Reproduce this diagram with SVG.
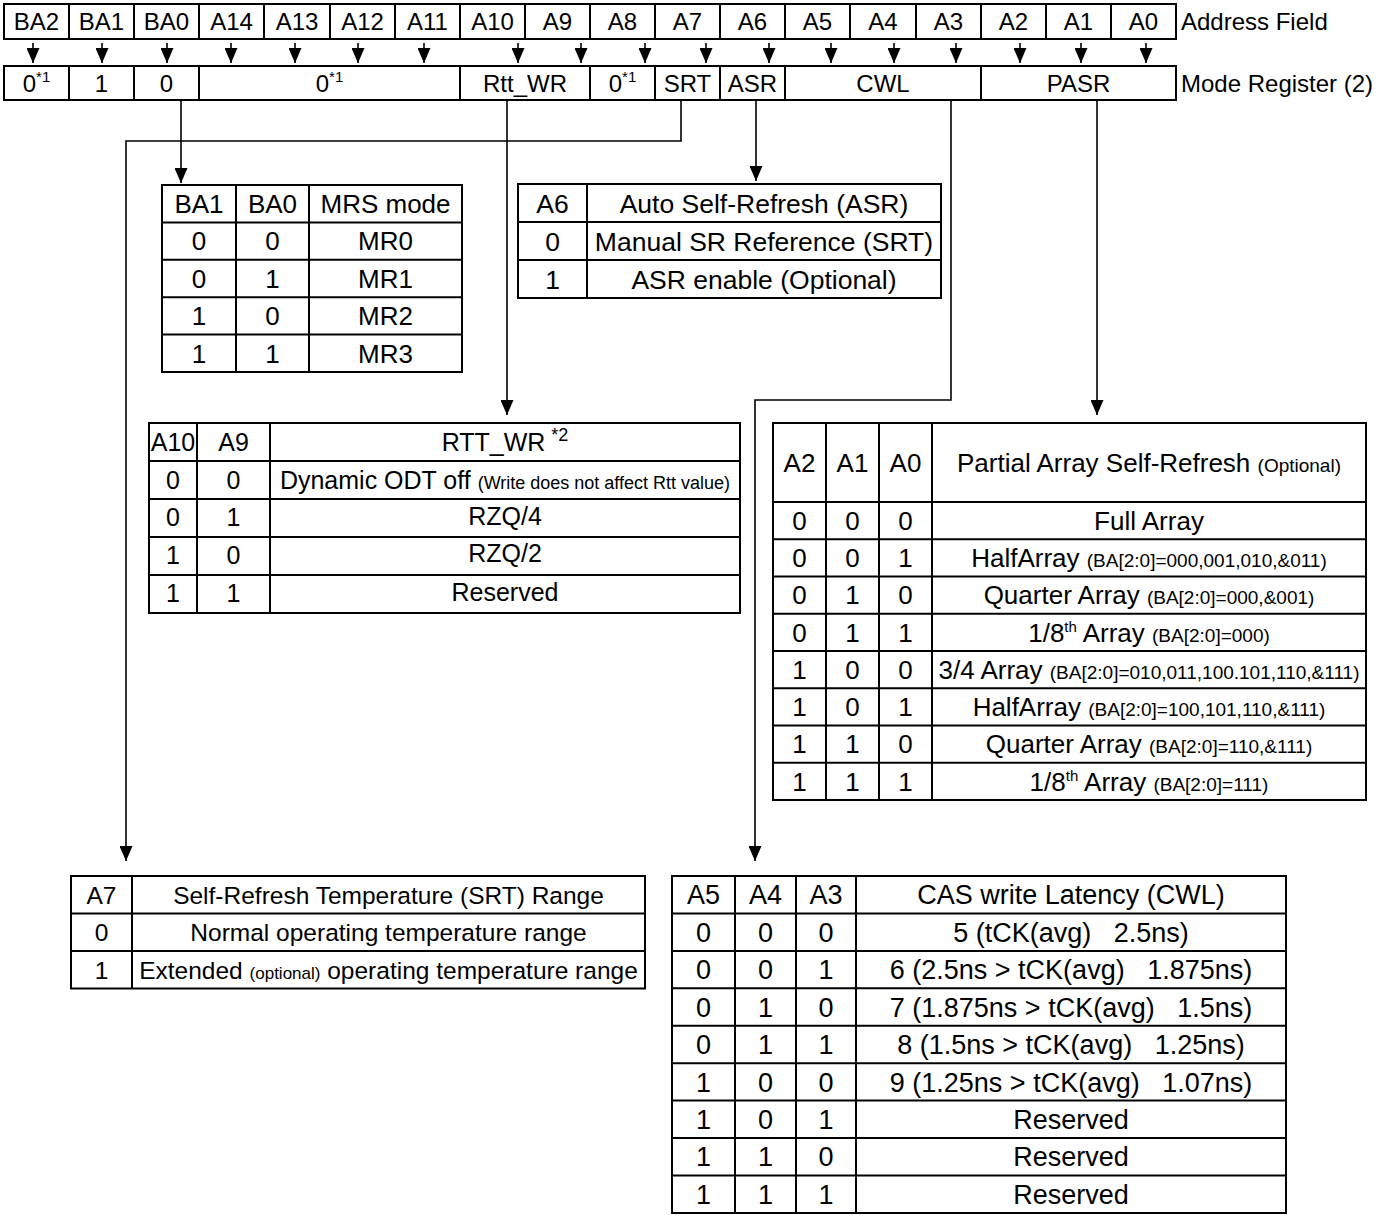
<svg xmlns="http://www.w3.org/2000/svg" width="1384" height="1215" viewBox="0 0 1384 1215">
<defs>
<style>
text{font-family:"Liberation Sans",Arial,Helvetica,sans-serif;fill:#000}
.m{text-anchor:middle}
.box{fill:#fff;stroke:#000;stroke-width:2}
.grid{fill:none;stroke:#000;stroke-width:2}
.conn{fill:none;stroke:#000;stroke-width:1.6}
.f24{font-size:24px}.f245{font-size:24.5px}.f25{font-size:25px}.f26{font-size:26px}.f265{font-size:26.5px}.f27{font-size:27px}
.s17{font-size:17px}.s18{font-size:18px}.s19{font-size:19px}.sup{font-size:15px}
</style>
<marker id="ah" markerUnits="userSpaceOnUse" markerWidth="15" markerHeight="13" refX="15" refY="6.5" orient="auto">
<path d="M0,0L15,6.5L0,13Z" fill="#000"/>
</marker>
</defs>
<rect width="1384" height="1215" fill="#fff"/>

<g id="address-field">
<rect class="box" x="4" y="4" width="1172" height="35"/>
<path class="grid" d="M69 4V39M134 4V39M199 4V39M264 4V39M330 4V39M395 4V39M460 4V39M525 4V39M590 4V39M655 4V39M720 4V39M785 4V39M850 4V39M916 4V39M981 4V39M1046 4V39M1111 4V39"/>
<g class="m f24">
<text x="36.5" y="30">BA2</text><text x="101.5" y="30">BA1</text><text x="166.5" y="30">BA0</text>
<text x="231.5" y="30">A14</text><text x="297" y="30">A13</text><text x="362.5" y="30">A12</text>
<text x="427.5" y="30">A11</text><text x="492.5" y="30">A10</text><text x="557.5" y="30">A9</text>
<text x="622.5" y="30">A8</text><text x="687.5" y="30">A7</text><text x="752.5" y="30">A6</text>
<text x="817.5" y="30">A5</text><text x="883" y="30">A4</text><text x="948.5" y="30">A3</text>
<text x="1013.5" y="30">A2</text><text x="1078.5" y="30">A1</text><text x="1143.5" y="30">A0</text>
</g>
<text class="f24" x="1181" y="30">Address Field</text>
</g>

<g id="mode-register">
<rect class="box" x="4" y="66" width="1172" height="34"/>
<path class="grid" d="M69 66V100M134 66V100M199 66V100M460 66V100M590 66V100M655 66V100M720 66V100M785 66V100M981 66V100"/>
<g class="m f24">
<text x="36.5" y="91.5">0<tspan class="sup" dy="-10">*1</tspan></text>
<text x="101.5" y="91.5">1</text>
<text x="166.5" y="91.5">0</text>
<text x="329.5" y="91.5">0<tspan class="sup" dy="-10">*1</tspan></text>
<text x="525" y="91.5">Rtt_WR</text>
<text x="622.5" y="91.5">0<tspan class="sup" dy="-10">*1</tspan></text>
<text x="687.5" y="91.5">SRT</text>
<text x="752.5" y="91.5">ASR</text>
<text x="883" y="91.5">CWL</text>
<text x="1078.5" y="91.5">PASR</text>
</g>
<text class="f24" x="1181" y="91.5">Mode Register (2)</text>
</g>

<g id="table-mrs">
<rect class="box" x="162" y="185" width="300" height="187"/>
<path class="grid" d="M236 185V372M309 185V372M162 222.4H462M162 259.8H462M162 297.2H462M162 334.6H462"/>
<g class="m f26">
<text x="199" y="213">BA1</text><text x="272.5" y="213">BA0</text><text x="385.5" y="213">MRS mode</text>
<text x="199" y="250.4">0</text><text x="272.5" y="250.4">0</text><text x="385.5" y="250.4">MR0</text>
<text x="199" y="287.8">0</text><text x="272.5" y="287.8">1</text><text x="385.5" y="287.8">MR1</text>
<text x="199" y="325.2">1</text><text x="272.5" y="325.2">0</text><text x="385.5" y="325.2">MR2</text>
<text x="199" y="362.6">1</text><text x="272.5" y="362.6">1</text><text x="385.5" y="362.6">MR3</text>
</g>
</g>

<g id="table-asr">
<rect class="box" x="518" y="184" width="423" height="114"/>
<path class="grid" d="M587 184V298M518 222H941M518 260H941"/>
<g class="m f265">
<text x="552.5" y="212.5">A6</text><text x="764" y="212.5">Auto Self-Refresh (ASR)</text>
<text x="552.5" y="250.5">0</text><text x="764" y="250.5">Manual SR Reference (SRT)</text>
<text x="552.5" y="288.5">1</text><text x="764" y="288.5">ASR enable (Optional)</text>
</g>
</g>

<g id="table-rtt-wr">
<rect class="box" x="149" y="423" width="591" height="190"/>
<path class="grid" d="M197 423V613M270 423V613M149 461H740M149 499H740M149 537H740M149 575H740"/>
<g class="m f25">
<text x="173" y="451">A10</text><text x="233.5" y="451">A9</text><text x="505" y="451">RTT_WR<tspan class="s18" dx="6" dy="-10">*2</tspan></text>
<text x="173" y="489">0</text><text x="233.5" y="489">0</text><text x="505" y="489">Dynamic ODT off <tspan class="s18">(Write does not affect Rtt value)</tspan></text>
<text x="173" y="526">0</text><text x="233.5" y="526">1</text><text x="505" y="525">RZQ/4</text>
<text x="173" y="564">1</text><text x="233.5" y="564">0</text><text x="505" y="562">RZQ/2</text>
<text x="173" y="602">1</text><text x="233.5" y="602">1</text><text x="505" y="601">Reserved</text>
</g>
</g>

<g id="table-pasr">
<rect class="box" x="773" y="423" width="593" height="377"/>
<path class="grid" d="M826 423V800M879 423V800M932 423V800M773 502H1366M773 539.25H1366M773 576.5H1366M773 613.75H1366M773 651H1366M773 688.25H1366M773 725.5H1366M773 762.75H1366"/>
<g class="m f26">
<text x="799.5" y="471.8">A2</text><text x="852.5" y="471.8">A1</text><text x="905.5" y="471.8">A0</text>
<text x="1149" y="471.8">Partial Array Self-Refresh <tspan class="s19">(Optional)</tspan></text>
<text x="799.5" y="529.9">0</text><text x="852.5" y="529.9">0</text><text x="905.5" y="529.9">0</text>
<text x="1149" y="529.9">Full Array</text>
<text x="799.5" y="567.2">0</text><text x="852.5" y="567.2">0</text><text x="905.5" y="567.2">1</text>
<text x="1149" y="567.2">HalfArray <tspan class="s19">(BA[2:0]=000,001,010,&amp;011)</tspan></text>
<text x="799.5" y="604.4">0</text><text x="852.5" y="604.4">1</text><text x="905.5" y="604.4">0</text>
<text x="1149" y="604.4">Quarter Array <tspan class="s19">(BA[2:0]=000,&amp;001)</tspan></text>
<text x="799.5" y="641.7">0</text><text x="852.5" y="641.7">1</text><text x="905.5" y="641.7">1</text>
<text x="1149" y="641.7">1/8<tspan class="sup" dy="-10">th</tspan><tspan dy="10"> Array </tspan><tspan class="s19">(BA[2:0]=000)</tspan></text>
<text x="799.5" y="678.9">1</text><text x="852.5" y="678.9">0</text><text x="905.5" y="678.9">0</text>
<text x="1149" y="678.9">3/4 Array <tspan class="s19">(BA[2:0]=010,011,100.101,110,&amp;111)</tspan></text>
<text x="799.5" y="716.2">1</text><text x="852.5" y="716.2">0</text><text x="905.5" y="716.2">1</text>
<text x="1149" y="716.2">HalfArray <tspan class="s19">(BA[2:0]=100,101,110,&amp;111)</tspan></text>
<text x="799.5" y="753.4">1</text><text x="852.5" y="753.4">1</text><text x="905.5" y="753.4">0</text>
<text x="1149" y="753.4">Quarter Array <tspan class="s19">(BA[2:0]=110,&amp;111)</tspan></text>
<text x="799.5" y="790.7">1</text><text x="852.5" y="790.7">1</text><text x="905.5" y="790.7">1</text>
<text x="1149" y="790.7">1/8<tspan class="sup" dy="-10">th</tspan><tspan dy="10"> Array </tspan><tspan class="s19">(BA[2:0]=111)</tspan></text>
</g>
</g>

<g id="table-srt">
<rect class="box" x="71" y="876" width="574" height="112.5"/>
<path class="grid" d="M132 876V988.5M71 913.5H645M71 951H645"/>
<g class="m f245">
<text x="101.5" y="903.5">A7</text><text x="388.5" y="903.5">Self-Refresh Temperature (SRT) Range</text>
<text x="101.5" y="941">0</text><text x="388.5" y="941">Normal operating temperature range</text>
<text x="101.5" y="978.5">1</text><text x="388.5" y="978.5">Extended <tspan class="s17">(optional)</tspan> operating temperature range</text>
</g>
</g>

<g id="table-cwl">
<rect class="box" x="672" y="876" width="614" height="337"/>
<path class="grid" d="M735 876V1213M796 876V1213M856 876V1213M672 913.4H1286M672 950.9H1286M672 988.3H1286M672 1025.8H1286M672 1063.2H1286M672 1100.6H1286M672 1138.1H1286M672 1175.5H1286"/>
<g class="m f27">
<text x="703.5" y="904.3">A5</text><text x="765.5" y="904.3">A4</text><text x="826" y="904.3">A3</text><text x="1071" y="904.3">CAS write Latency (CWL)</text>
<text x="703.5" y="941.8">0</text><text x="765.5" y="941.8">0</text><text x="826" y="941.8">0</text><text x="1071" y="941.8">5 (tCK(avg)&#160;&#160;&#160;2.5ns)</text>
<text x="703.5" y="979.2">0</text><text x="765.5" y="979.2">0</text><text x="826" y="979.2">1</text><text x="1071" y="979.2">6 (2.5ns &gt; tCK(avg)&#160;&#160;&#160;1.875ns)</text>
<text x="703.5" y="1016.6">0</text><text x="765.5" y="1016.6">1</text><text x="826" y="1016.6">0</text><text x="1071" y="1016.6">7 (1.875ns &gt; tCK(avg)&#160;&#160;&#160;1.5ns)</text>
<text x="703.5" y="1054.1">0</text><text x="765.5" y="1054.1">1</text><text x="826" y="1054.1">1</text><text x="1071" y="1054.1">8 (1.5ns &gt; tCK(avg)&#160;&#160;&#160;1.25ns)</text>
<text x="703.5" y="1091.5">1</text><text x="765.5" y="1091.5">0</text><text x="826" y="1091.5">0</text><text x="1071" y="1091.5">9 (1.25ns &gt; tCK(avg)&#160;&#160;&#160;1.07ns)</text>
<text x="703.5" y="1129">1</text><text x="765.5" y="1129">0</text><text x="826" y="1129">1</text><text x="1071" y="1129">Reserved</text>
<text x="703.5" y="1166.4">1</text><text x="765.5" y="1166.4">1</text><text x="826" y="1166.4">0</text><text x="1071" y="1166.4">Reserved</text>
<text x="703.5" y="1203.9">1</text><text x="765.5" y="1203.9">1</text><text x="826" y="1203.9">1</text><text x="1071" y="1203.9">Reserved</text>
</g>
</g>

<g id="connectors" class="conn" marker-end="url(#ah)">
<path d="M33 43V63"/><path d="M102 43V63"/><path d="M167 43V63"/><path d="M231 43V63"/>
<path d="M295 43V63"/><path d="M358 43V63"/><path d="M424 43V63"/><path d="M518 43V63"/>
<path d="M581 43V63"/><path d="M645 43V63"/><path d="M706 43V63"/><path d="M769 43V63"/>
<path d="M831 43V63"/><path d="M894 43V63"/><path d="M956 43V63"/><path d="M1020 43V63"/>
<path d="M1081 43V63"/><path d="M1146 43V63"/>
<path d="M181 100V183"/>
<path d="M507 100V415"/>
<path d="M681 100V141H126V861"/>
<path d="M756 100V181"/>
<path d="M951 100V400H755V861"/>
<path d="M1097 100V415"/>
</g>
</svg>
